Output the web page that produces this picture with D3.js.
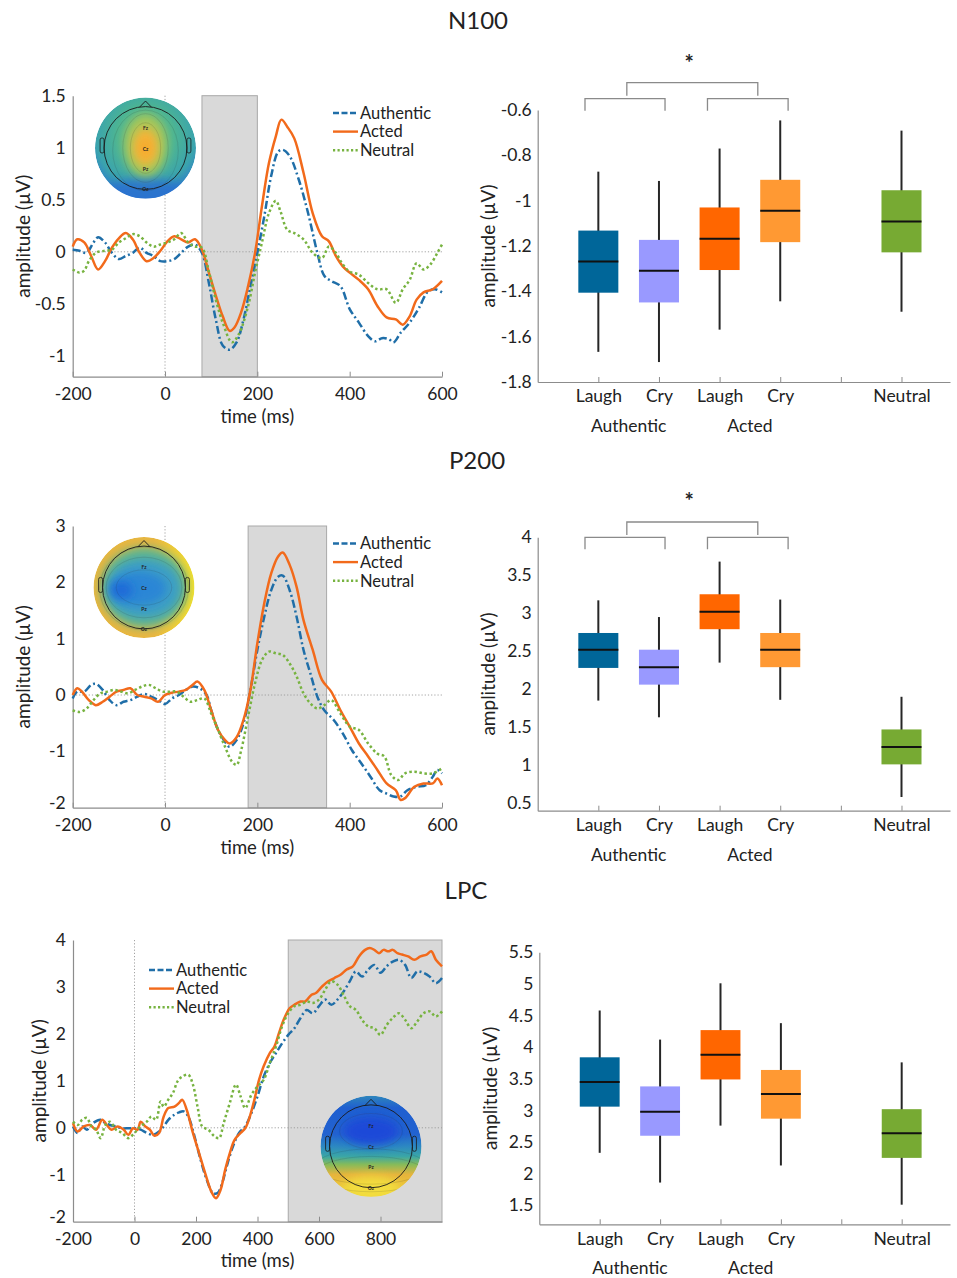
<!DOCTYPE html>
<html><head><meta charset="utf-8">
<script src="https://cdn.jsdelivr.net/npm/d3@7"></script>
<style>
body{margin:0;background:#fff}
svg{display:block}
text{font-family:Lato,'Open Sans',sans-serif;fill:#222}
</style>
</head><body>
<svg id="fig" width="957" height="1278"></svg>
<script>
// ---------------- DATA ----------------
const titles = ["N100", "P200", "LPC"];
const seriesNames = ["Authentic", "Acted", "Neutral"];
const boxCategories = ["Laugh", "Cry", "Laugh", "Cry", "", "Neutral"];
const boxPositions = [1, 2, 3, 4, 6];
const groupLabels = ["Authentic", "Acted"];

const erpXTicksShort = [-200, 0, 200, 400, 600];
const erpXTicksLong = [-200, 0, 200, 400, 600, 800];
const n100YTicks = [-1, -0.5, 0, 0.5, 1, 1.5];
const p200YTicks = [-2, -1, 0, 1, 2, 3];
const lpcYTicks = [-2, -1, 0, 1, 2, 3, 4];
const n100BoxTicks = [-1.8, -1.6, -1.4, -1.2, -1, -0.8, -0.6];
const p200BoxTicks = [0.5, 1, 1.5, 2, 2.5, 3, 3.5, 4];
const lpcBoxTicks = [1.5, 2, 2.5, 3, 3.5, 4, 4.5, 5, 5.5];

const n100Window = [80, 200];
const p200Window = [180, 350];
const lpcWindow = [500, 1000];

// box stats: [lower whisker, q1, median, q3, upper whisker]
// order: Authentic Laugh, Authentic Cry, Acted Laugh, Acted Cry, Neutral
const n100Box = [
  [-1.667, -1.406, -1.268, -1.132, -0.872],
  [-1.712, -1.449, -1.309, -1.173, -0.913],
  [-1.569, -1.306, -1.168, -1.030, -0.770],
  [-1.444, -1.183, -1.045, -0.908, -0.646],
  [-1.490, -1.228, -1.092, -0.954, -0.691]
];
const p200Box = [
  [1.85, 2.28, 2.52, 2.74, 3.17],
  [1.63, 2.06, 2.29, 2.52, 2.95],
  [2.35, 2.79, 3.02, 3.25, 3.68],
  [1.86, 2.29, 2.52, 2.74, 3.18],
  [0.58, 1.01, 1.24, 1.47, 1.90]
];
const lpcBox = [
  [2.33, 3.06, 3.45, 3.84, 4.58],
  [1.86, 2.60, 2.98, 3.38, 4.12],
  [2.76, 3.49, 3.88, 4.27, 5.01],
  [2.13, 2.87, 3.26, 3.64, 4.38],
  [1.51, 2.25, 2.64, 3.02, 3.76]
];

// ERP waveforms: [time ms, amplitude µV]
const n100Authentic = [[-200,0.02],[-185,0.01],[-170,-0.01],[-155,0.09],[-145,0.14],[-130,0.09],[-115,-0.01],[-100,-0.07],[-85,-0.04],[-70,-0.01],[-55,0.04],[-40,-0.01],[-25,-0.04],[-10,-0.09],[5,-0.09],[20,-0.07],[35,-0.01],[50,0.05],[65,0.07],[80,-0.01],[95,-0.30],[110,-0.65],[125,-0.90],[140,-0.94],[155,-0.87],[170,-0.65],[185,-0.33],[200,-0.01],[215,0.34],[230,0.73],[245,0.96],[255,0.98],[270,0.92],[290,0.69],[310,0.37],[330,-0.01],[345,-0.23],[360,-0.28],[380,-0.33],[400,-0.55],[420,-0.68],[440,-0.81],[455,-0.86],[470,-0.83],[485,-0.84],[495,-0.87],[510,-0.78],[530,-0.68],[550,-0.54],[570,-0.38],[585,-0.36],[600,-0.39]];
const n100Acted = [[-200,0.05],[-190,0.12],[-175,0.09],[-160,-0.04],[-145,-0.17],[-130,-0.09],[-115,0.04],[-100,0.13],[-85,0.18],[-70,0.12],[-55,-0.01],[-40,-0.09],[-25,-0.06],[-10,0.01],[5,0.10],[20,0.15],[35,0.12],[50,0.09],[65,0.12],[80,0.02],[95,-0.20],[110,-0.42],[125,-0.62],[140,-0.76],[150,-0.73],[165,-0.58],[180,-0.33],[195,-0.01],[210,0.44],[225,0.85],[240,1.11],[252,1.27],[265,1.20],[280,1.09],[300,0.76],[320,0.37],[340,0.15],[355,0.10],[370,-0.04],[385,-0.14],[400,-0.20],[420,-0.27],[440,-0.36],[460,-0.52],[480,-0.63],[500,-0.65],[515,-0.70],[530,-0.62],[545,-0.46],[560,-0.39],[580,-0.36],[600,-0.28]];
const n100Neutral = [[-200,-0.17],[-185,-0.20],[-175,-0.18],[-165,-0.09],[-150,-0.01],[-130,0.01],[-115,0.02],[-100,0.09],[-85,0.13],[-70,0.17],[-55,0.15],[-40,0.09],[-25,0.05],[-10,0.07],[5,0.09],[20,0.12],[35,0.18],[50,0.09],[65,0.05],[80,0.04],[95,-0.19],[110,-0.46],[125,-0.68],[145,-0.87],[160,-0.79],[180,-0.52],[195,-0.20],[210,0.09],[225,0.37],[240,0.49],[250,0.39],[265,0.21],[280,0.18],[300,0.12],[320,-0.01],[340,-0.06],[355,0.05],[370,-0.01],[385,-0.12],[400,-0.19],[420,-0.22],[440,-0.30],[460,-0.36],[480,-0.36],[500,-0.49],[515,-0.36],[530,-0.27],[545,-0.11],[560,-0.17],[575,-0.12],[590,-0.01],[600,0.07]];

const p200Authentic = [[-200,-0.06],[-190,0.06],[-175,0.06],[-160,0.18],[-150,0.20],[-135,0.09],[-120,-0.09],[-105,-0.18],[-90,-0.12],[-75,-0.09],[-60,-0.03],[-45,0.02],[-30,-0.03],[-15,-0.09],[0,-0.16],[15,-0.06],[30,0],[45,0.09],[60,0.15],[75,0.12],[90,0],[100,-0.27],[115,-0.62],[130,-0.83],[140,-0.92],[155,-0.80],[170,-0.50],[185,0.09],[200,0.80],[215,1.39],[230,1.86],[245,2.10],[255,2.12],[270,1.86],[285,1.39],[300,0.80],[315,0.38],[330,-0.03],[345,-0.27],[365,-0.44],[385,-0.68],[405,-0.98],[425,-1.21],[445,-1.45],[465,-1.69],[480,-1.75],[495,-1.80],[510,-1.80],[525,-1.69],[545,-1.63],[565,-1.60],[580,-1.45],[590,-1.33],[600,-1.39]];
const p200Acted = [[-200,0],[-190,0.12],[-180,0.06],[-165,-0.09],[-150,-0.18],[-135,-0.12],[-120,-0.03],[-105,0.06],[-90,0.09],[-75,0.12],[-60,0],[-45,-0.03],[-30,-0.06],[-15,-0.12],[0,0],[15,0.04],[30,0.06],[45,0.09],[60,0.18],[70,0.24],[85,0.09],[100,-0.27],[115,-0.62],[130,-0.80],[140,-0.86],[155,-0.75],[170,-0.44],[185,0.09],[200,0.92],[215,1.63],[230,2.16],[245,2.46],[255,2.53],[270,2.31],[285,1.92],[300,1.33],[320,0.80],[340,0.27],[360,0.06],[380,-0.27],[400,-0.56],[420,-0.86],[440,-1.09],[460,-1.33],[480,-1.57],[500,-1.69],[510,-1.86],[520,-1.83],[540,-1.63],[560,-1.57],[580,-1.57],[590,-1.48],[600,-1.60]];
const p200Neutral = [[-200,-0.27],[-185,-0.30],[-170,-0.24],[-155,-0.09],[-140,0.03],[-125,0.06],[-110,0.09],[-95,0.06],[-80,0.03],[-65,0.09],[-50,0.15],[-35,0.18],[-20,0.12],[-5,0.06],[10,0.06],[25,0.06],[40,-0.03],[55,-0.12],[70,-0.09],[85,-0.06],[100,-0.33],[115,-0.62],[130,-0.92],[145,-1.18],[155,-1.24],[165,-0.98],[180,-0.38],[195,0.21],[210,0.62],[225,0.77],[240,0.74],[255,0.71],[270,0.56],[285,0.33],[300,0.03],[315,-0.15],[330,-0.24],[345,-0.18],[360,-0.09],[380,-0.33],[400,-0.56],[420,-0.62],[440,-0.86],[460,-1.04],[475,-1.09],[490,-1.42],[505,-1.51],[520,-1.39],[540,-1.36],[560,-1.39],[580,-1.39],[600,-1.30]];

const lpcAuthentic = [[-200,0.03],[-185,-0.11],[-170,0.03],[-155,-0.04],[-135,0.10],[-110,0.17],[-95,0.10],[-80,0.06],[-60,0.03],[-40,-0.01],[-20,-0.01],[0,-0.01],[20,-0.04],[40,-0.11],[60,-0.15],[80,-0.08],[95,0.03],[110,0.17],[130,0.28],[145,0.33],[160,0.35],[175,0.24],[195,-0.18],[215,-0.68],[235,-1.11],[255,-1.39],[270,-1.39],[285,-1.18],[300,-0.82],[320,-0.40],[340,-0.11],[360,0.03],[380,0.31],[400,0.67],[420,1.09],[440,1.38],[460,1.59],[480,1.80],[500,1.98],[520,2.12],[540,2.34],[560,2.51],[580,2.44],[600,2.59],[620,2.73],[640,2.62],[660,2.73],[680,2.90],[700,3.12],[720,3.33],[740,3.22],[760,3.37],[780,3.47],[800,3.30],[820,3.44],[840,3.54],[860,3.58],[880,3.47],[900,3.19],[920,3.33],[940,3.30],[960,3.22],[980,3.08],[1000,3.19]];
const lpcActed = [[-200,0.10],[-185,-0.08],[-165,0.03],[-145,0.06],[-125,-0.04],[-105,0.17],[-90,0.06],[-75,-0.04],[-55,0.03],[-35,-0.04],[-20,-0.15],[-5,-0.01],[10,-0.04],[20,0.13],[35,0.03],[50,-0.04],[65,-0.17],[80,-0.11],[95,0.24],[110,0.42],[130,0.45],[145,0.53],[155,0.60],[170,0.38],[190,-0.11],[210,-0.54],[230,-0.97],[250,-1.36],[265,-1.50],[280,-1.32],[295,-0.89],[310,-0.54],[325,-0.26],[345,-0.11],[360,-0.01],[375,0.24],[390,0.60],[405,1.02],[420,1.31],[440,1.59],[455,1.73],[470,2.02],[485,2.30],[505,2.55],[520,2.62],[540,2.69],[555,2.69],[575,2.83],[590,2.87],[610,3.01],[630,3.12],[650,3.19],[670,3.26],[690,3.37],[710,3.44],[730,3.65],[750,3.79],[765,3.83],[780,3.79],[795,3.72],[810,3.79],[825,3.76],[840,3.79],[855,3.72],[870,3.69],[890,3.65],[910,3.58],[930,3.65],[950,3.69],[965,3.76],[980,3.58],[1000,3.44]];
const lpcNeutral = [[-200,0.13],[-185,0.06],[-170,0.17],[-155,0.21],[-140,0.03],[-125,-0.04],[-110,-0.22],[-95,0.06],[-80,0.13],[-60,-0.04],[-40,-0.11],[-20,-0.22],[0,-0.11],[20,0.03],[40,0.13],[55,0.24],[70,0.17],[85,0.56],[95,0.45],[110,0.60],[125,0.74],[140,0.99],[155,1.09],[175,1.13],[190,0.92],[205,0.45],[220,0.03],[240,-0.04],[260,-0.18],[275,-0.22],[290,0.10],[310,0.53],[330,0.92],[345,0.67],[360,0.42],[380,0.70],[400,0.88],[420,1.02],[440,1.38],[460,1.73],[480,2.16],[500,2.44],[520,2.59],[540,2.62],[560,2.69],[580,2.66],[600,2.73],[620,2.94],[640,3.12],[660,3.05],[680,2.83],[700,2.59],[720,2.51],[740,2.30],[760,2.16],[780,2.12],[800,1.98],[820,2.19],[840,2.34],[860,2.44],[880,2.30],[900,2.12],[920,2.27],[940,2.44],[960,2.48],[980,2.37],[1000,2.48]];

// ---------------- DRAWING ----------------
const svg = d3.select("#fig");
const defs = svg.append("defs");
const lineColors = ["#1f6ea8", "#f26a1b", "#77b340"];
const lineDash = ["8,3,2,3", null, "2.5,2.6"];
const boxColors = ["#006699", "#9999ff", "#ff6600", "#ff9933", "#77aa33"];
const axisGray = "#8c8c8c";
const fmt = v => String(+v.toFixed(2));

function styleAxis(sel, fs) {
  sel.select(".domain").attr("stroke", axisGray).attr("stroke-width", 1.2);
  sel.selectAll(".tick line").attr("stroke", axisGray).attr("stroke-width", 1);
  sel.selectAll(".tick text").attr("font-size", fs).attr("fill", "#222")
    .attr("font-family", "Lato, 'Open Sans', sans-serif");
}

function erpPanel(cfg) {
  const x = d3.scaleLinear().domain(cfg.xDom).range([cfg.left, cfg.right]);
  const y = d3.scaleLinear().domain(cfg.yDom).range([cfg.bottom, cfg.top]);
  const g = svg.append("g");
  g.append("rect").attr("x", x(cfg.win[0])).attr("y", cfg.top)
    .attr("width", x(cfg.win[1]) - x(cfg.win[0])).attr("height", cfg.bottom - cfg.top)
    .attr("fill", "#d9d9d9").attr("stroke", "#a9a9a9").attr("stroke-width", 1);
  g.append("line").attr("x1", x(cfg.xDom[0])).attr("x2", x(cfg.xDom[1]))
    .attr("y1", y(0)).attr("y2", y(0)).attr("stroke", "#999").attr("stroke-width", 0.9)
    .attr("stroke-dasharray", "1.2,2");
  g.append("line").attr("x1", x(0)).attr("x2", x(0))
    .attr("y1", cfg.top).attr("y2", cfg.bottom).attr("stroke", "#999").attr("stroke-width", 0.9)
    .attr("stroke-dasharray", "1.2,2");

  const xa = g.append("g").attr("transform", `translate(0,${cfg.bottom})`)
    .call(d3.axisBottom(x).tickValues(cfg.xTicks).tickSize(-5).tickSizeOuter(0)
      .tickPadding(11).tickFormat(fmt));
  styleAxis(xa, 17.5);
  const ya = g.append("g").attr("transform", `translate(${cfg.left},0)`)
    .call(d3.axisLeft(y).tickValues(cfg.yTicks).tickSize(-5).tickSizeOuter(0)
      .tickPadding(7).tickFormat(fmt));
  styleAxis(ya, 17.5);
  ya.selectAll(".tick line").attr("stroke", "none");
  // lowest label sits on the corner: lift it slightly so it clears the x labels
  ya.selectAll(".tick text").filter(d => d === cfg.yDom[0]).attr("dy", "0.02em");

  const line = d3.line().x(d => x(d[0])).y(d => y(d[1])).curve(d3.curveCatmullRom.alpha(0.5));
  cfg.series.forEach((s, i) => {
    g.append("path").datum(s).attr("d", line).attr("fill", "none")
      .attr("stroke", lineColors[i]).attr("stroke-width", 2.5)
      .attr("stroke-linejoin", "round")
      .attr("stroke-dasharray", lineDash[i]);
  });

  g.append("text").attr("x", (cfg.left + cfg.right) / 2).attr("y", cfg.xLabelY)
    .attr("text-anchor", "middle").attr("font-size", 18.5).text("time (ms)");
  g.append("text").attr("transform", `translate(${cfg.yLabelX},${(cfg.top + cfg.bottom) / 2}) rotate(-90)`)
    .attr("text-anchor", "middle").attr("font-size", 19).text("amplitude (µV)");

  // legend
  const lg = g.append("g");
  seriesNames.forEach((n, i) => {
    const yy = cfg.legY + i * 18.6;
    lg.append("line").attr("x1", cfg.legX).attr("x2", cfg.legX + 25).attr("y1", yy).attr("y2", yy)
      .attr("stroke", lineColors[i]).attr("stroke-width", 2.4).attr("stroke-dasharray", lineDash[i] ? (i === 0 ? "6,2.5" : "2.2,2.3") : null);
    lg.append("text").attr("x", cfg.legX + 27).attr("y", yy + 5.8).attr("font-size", 16.5).text(n);
  });
  return g;
}

function boxPanel(cfg) {
  const x = d3.scaleLinear().domain([0, 6.8]).range([cfg.left, 950]);
  const y = d3.scaleLinear().domain(cfg.yDom).range([cfg.bottom, cfg.top]);
  const g = svg.append("g");
  const xa = g.append("g").attr("transform", `translate(0,${cfg.bottom})`)
    .call(d3.axisBottom(x).tickValues([1, 2, 3, 4, 5, 6]).tickSize(-5).tickSizeOuter(0)
      .tickPadding(8).tickFormat((d, i) => boxCategories[i]));
  styleAxis(xa, 17.5);
  const ya = g.append("g").attr("transform", `translate(${cfg.left},0)`)
    .call(d3.axisLeft(y).tickValues(cfg.yTicks).tickSize(-5).tickSizeOuter(0)
      .tickPadding(6).tickFormat(fmt));
  styleAxis(ya, 17.5);
  ya.selectAll(".tick line").attr("stroke", "none");

  groupLabels.forEach((lab, i) => {
    g.append("text").attr("x", x(1.5 + 2 * i)).attr("y", cfg.bottom + 50)
      .attr("text-anchor", "middle").attr("font-size", 17.5).text(lab);
  });
  g.append("text").attr("transform", `translate(${cfg.yLabelX},${(cfg.top + cfg.bottom) / 2}) rotate(-90)`)
    .attr("text-anchor", "middle").attr("font-size", 19).text("amplitude (µV)");

  const hw = 0.33;
  cfg.data.forEach((d, i) => {
    const p = boxPositions[i];
    g.append("line").attr("x1", x(p)).attr("x2", x(p)).attr("y1", y(d[0])).attr("y2", y(d[4]))
      .attr("stroke", "#262626").attr("stroke-width", 2);
    g.append("rect").attr("x", x(p - hw)).attr("width", x(p + hw) - x(p - hw))
      .attr("y", y(d[3])).attr("height", y(d[1]) - y(d[3])).attr("fill", boxColors[i]);
    g.append("line").attr("x1", x(p - hw)).attr("x2", x(p + hw)).attr("y1", y(d[2])).attr("y2", y(d[2]))
      .attr("stroke", "#111").attr("stroke-width", 2);
  });

  if (cfg.brackets) {
    const b = cfg.brackets;
    const br = (a, c, yy, leg) => g.append("path")
      .attr("d", `M${x(a)},${yy + leg} V${yy} H${x(c)} V${yy + leg}`)
      .attr("fill", "none").attr("stroke", "#8a8a8a").attr("stroke-width", 1.3);
    br(0.78, 2.1, b.low, 12);
    br(2.8, 4.13, b.low, 12);
    br(1.47, 3.63, b.high, 13);
    g.append("text").attr("x", x(2.5)).attr("y", b.star).attr("text-anchor", "middle")
      .attr("font-size", 22).attr("font-weight", "bold").text("*");
  }
  return g;
}

// ------- scalp maps (decorative topography insets) -------
function gradient(id, stops, vertical, radial) {
  const gr = radial ? defs.append("radialGradient").attr("id", id).attr("cx", radial[0]).attr("cy", radial[1]).attr("r", radial[2])
    : defs.append("linearGradient").attr("id", id).attr("x1", 0).attr("y1", 0).attr("x2", vertical ? 0 : 1).attr("y2", vertical ? 1 : 0);
  stops.forEach(s => gr.append("stop").attr("offset", s[0]).attr("stop-color", s[1]));
  return `url(#${id})`;
}
function scalp(id, cx, cy, R, baseFill, blobs, contours) {
  const g = svg.append("g");
  defs.append("clipPath").attr("id", "clip" + id).append("circle").attr("cx", cx).attr("cy", cy).attr("r", R);
  defs.append("filter").attr("id", "blur" + id).attr("x", "-60%").attr("y", "-60%").attr("width", "220%").attr("height", "220%")
    .append("feGaussianBlur").attr("stdDeviation", R * 0.09);
  const inner = g.append("g").attr("clip-path", `url(#clip${id})`);
  inner.append("circle").attr("cx", cx).attr("cy", cy).attr("r", R).attr("fill", baseFill);
  blobs.forEach(b => inner.append("ellipse").attr("cx", cx + b[0] * R).attr("cy", cy + b[1] * R)
    .attr("rx", b[2] * R).attr("ry", b[3] * R).attr("fill", b[4]).attr("opacity", b[5] || 1)
    .attr("filter", `url(#blur${id})`));
  (contours || []).forEach(c => inner.append("ellipse").attr("cx", cx + c[0] * R).attr("cy", cy + c[1] * R)
    .attr("rx", c[2] * R).attr("ry", c[3] * R).attr("fill", "none").attr("stroke", "rgba(40,40,40,0.22)").attr("stroke-width", 0.6));
  const hr = 0.82 * R;
  g.append("circle").attr("cx", cx).attr("cy", cy).attr("r", hr).attr("fill", "none").attr("stroke", "#1a1a1a").attr("stroke-width", 0.9);
  g.append("path").attr("d", `M${cx - 6},${cy - hr + 0.6} L${cx},${cy - 0.93 * R} L${cx + 6},${cy - hr + 0.6}`)
    .attr("fill", "none").attr("stroke", "#1a1a1a").attr("stroke-width", 0.9);
  [-1, 1].forEach(s => {
    g.append("rect").attr("x", s < 0 ? cx - hr - 4 : cx + hr).attr("y", cy - 0.2 * R).attr("width", 4).attr("height", 0.3 * R)
      .attr("rx", 2).attr("fill", "none").attr("stroke", "#1a1a1a").attr("stroke-width", 0.8);
  });
  [["Fz", -0.4], ["Cz", 0.02], ["Pz", 0.42], ["Oz", 0.82]].forEach(e => {
    g.append("text").attr("x", cx).attr("y", cy + e[1] * R + 1.8).attr("text-anchor", "middle")
      .attr("font-size", 5).attr("font-weight", "bold").attr("fill", "#222").text(e[0]);
  });
}

// ------- titles -------
[[478, 29], [477, 469], [466, 899]].forEach((p, i) => {
  svg.append("text").attr("x", p[0]).attr("y", p[1]).attr("text-anchor", "middle")
    .attr("font-size", 24).text(titles[i]);
});

// ------- panels -------
erpPanel({ left: 72.7, right: 442, top: 95.7, bottom: 376.7, xDom: [-200, 600], yDom: [-1.2, 1.5],
  xTicks: erpXTicksShort, yTicks: n100YTicks, win: n100Window,
  series: [n100Authentic, n100Acted, n100Neutral], xLabelY: 423, yLabelX: 30, legX: 333, legY: 113 });
scalp("a", 145.5, 148, 50.5,
  gradient("ga", [[0, "#7cc070"], [0.45, "#4db592"], [0.8, "#3aa3ae"], [1, "#2f7fc8"]], false, ["50%", "38%", "62%"]),
  [[0, 0.95, 0.9, 0.35, "#2a6fd0", 0.85], [0, -0.05, 0.42, 0.62, "#a6c75a"], [0, -0.02, 0.25, 0.38, "#f2b63a"], [0, 0, 0.12, 0.2, "#f7a92c"]],
  [[0, 0, 0.3, 0.5], [0, 0, 0.45, 0.68], [0, 0.05, 0.65, 0.8]]);

erpPanel({ left: 72.7, right: 442, top: 526, bottom: 807.7, xDom: [-200, 600], yDom: [-2, 3],
  xTicks: erpXTicksShort, yTicks: p200YTicks, win: p200Window,
  series: [p200Authentic, p200Acted, p200Neutral], xLabelY: 854, yLabelX: 30, legX: 333, legY: 543.5 });
scalp("c", 144, 587.5, 50.5,
  gradient("gc", [[0, "#e8b63e"], [0.6, "#eab640"], [1, "#f4e02c"]], false),
  [[0, 0, 0.86, 0.8, "#5fb68c"], [0, 0.02, 0.74, 0.6, "#3e9fc4"], [-0.1, 0.02, 0.55, 0.34, "#2a86d6"], [-0.45, 0.05, 0.22, 0.18, "#1f6ad8"]],
  [[0, 0, 0.55, 0.35], [0, 0, 0.75, 0.6], [0, 0.02, 0.88, 0.82]]);

erpPanel({ left: 73, right: 442, top: 940, bottom: 1221.7, xDom: [-200, 1000], yDom: [-2, 4],
  xTicks: erpXTicksLong, yTicks: lpcYTicks, win: lpcWindow,
  series: [lpcAuthentic, lpcActed, lpcNeutral], xLabelY: 1267, yLabelX: 46, legX: 149, legY: 970 });
scalp("e", 371, 1146.3, 50.5,
  gradient("ge", [[0, "#2e86bc"], [0.12, "#1f5fd0"], [0.38, "#2262d0"], [0.5, "#2c88c2"], [0.6, "#3aa6a6"], [0.68, "#86bb5a"], [0.78, "#e6b43c"], [1, "#f0d438"]], true),
  [[0, -0.3, 0.55, 0.28, "#1a4ad8"], [0, 0.82, 0.55, 0.22, "#f3e040", 0.9]],
  [[0, -0.3, 0.62, 0.35], [0, 0.4, 1.1, 0.35], [0, 0.55, 1.1, 0.35]]);

boxPanel({ left: 537.7, top: 110, bottom: 382, yDom: [-1.8, -0.6], yTicks: n100BoxTicks, data: n100Box,
  yLabelX: 495, brackets: { low: 98.7, high: 82.7, star: 71 } });
boxPanel({ left: 537.7, top: 537.3, bottom: 810.7, yDom: [0.4, 4], yTicks: p200BoxTicks, data: p200Box,
  yLabelX: 495, brackets: { low: 537.3, high: 522, star: 509 } });
boxPanel({ left: 539.3, top: 952.3, bottom: 1224.3, yDom: [1.2, 5.5], yTicks: lpcBoxTicks, data: lpcBox,
  yLabelX: 497 });
</script>
</body></html>
